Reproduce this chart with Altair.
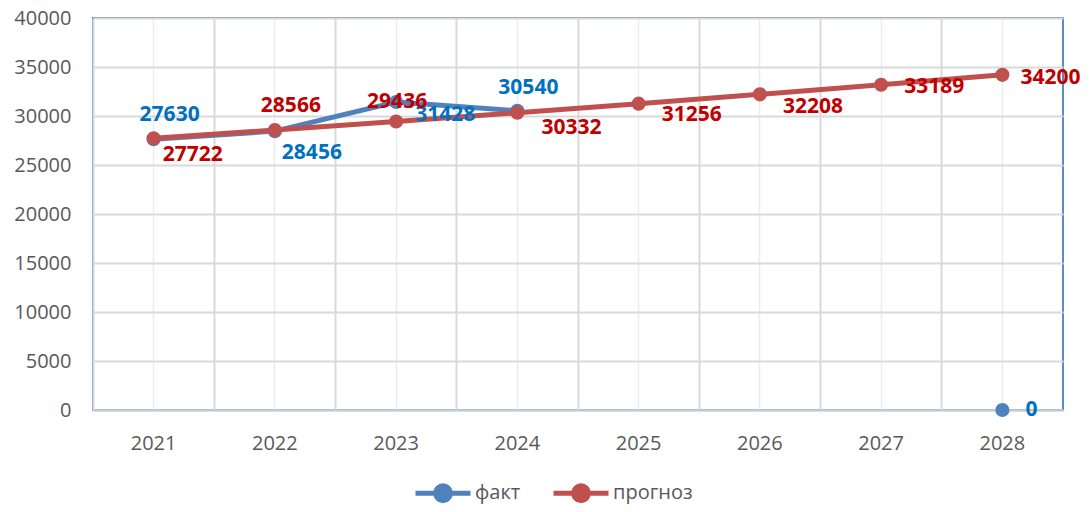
import altair as alt
import pandas as pd

years = ["2021", "2022", "2023", "2024", "2025", "2026", "2027", "2028"]
fact = [27630, 28456, 31428, 30540, None, None, None, 0]
forecast = [27722, 28566, 29436, 30332, 31256, 32208, 33189, 34200]
series_names = ["факт", "прогноз"]
line_colors = ["#4f81bd", "#c0504d"]
label_colors = ["#0070c0", "#c00000"]
y_ticks = [0, 5000, 10000, 15000, 20000, 25000, 30000, 35000, 40000]

rows = []
for name, vals in zip(series_names, [fact, forecast]):
    for yr, v in zip(years, vals):
        rows.append({"year": yr, "series": name, "value": v})
df = pd.DataFrame(rows)

FONT = "Open Sans"
xscale = alt.Scale(type="band", domain=years, paddingInner=0, paddingOuter=0)
yscale = alt.Scale(domain=[0, 40000], nice=False)
y_enc = alt.Y("value:Q", scale=yscale, title=None,
              axis=alt.Axis(values=y_ticks, format="d", ticks=False, domain=False,
                            labelPadding=22, gridColor="#d9d9d9", gridWidth=2,
                            labelFontSize=20, labelFont=FONT, labelColor="#595959"))
color_scale = alt.Scale(domain=series_names, range=line_colors)

base = alt.Chart(df)

legend_path = "M-1,0L1,0M-0.27,0A0.27,0.27,0,1,0,0.27,0A0.27,0.27,0,1,0,-0.27,0"
legend = alt.Legend(orient="none", legendX=320, legendY=445,
                    direction="horizontal", symbolType=legend_path,
                    symbolSize=3025, symbolStrokeWidth=5,
                    labelFont=FONT, labelFontSize=20, labelColor="#595959",
                    labelOffset=2, columnPadding=22, symbolOpacity=1)

lines = base.mark_line(strokeWidth=5, invalid="break-paths-show-domains").encode(
    x=alt.X("year:O", scale=xscale, title=None,
            axis=alt.Axis(orient="bottom", bandPosition=0, grid=True, gridColor="#d9d9d9",
                          gridWidth=2, ticks=False, domainColor="#c3cbd9", domainWidth=2,
                          labelAngle=0, labelPadding=23, labelFontSize=20, labelFont=FONT,
                          labelColor="#595959")),
    y=y_enc,
    color=alt.Color("series:N", scale=color_scale, title=None, legend=legend),
)

points = base.mark_circle(size=200, opacity=1).encode(
    x=alt.X("year:O", scale=xscale, title=None,
            axis=alt.Axis(orient="top", grid=True, gridColor="#ececec", gridWidth=1.5,
                          labels=False, ticks=False, domain=False)),
    y=y_enc,
    color=alt.Color("series:N", scale=color_scale, title=None, legend=legend),
)

label_specs = [
    ("факт", "2021", "center", 16, -24),
    ("факт", "2022", "center", 37, 22),
    ("факт", "2023", "left", 19, 13),
    ("факт", "2024", "center", 11, -23),
    ("факт", "2028", "left", 23, 0),
    ("прогноз", "2021", "left", 9, 17),
    ("прогноз", "2022", "center", 16, -24),
    ("прогноз", "2023", "center", 1, -20),
    ("прогноз", "2024", "left", 24, 15),
    ("прогноз", "2025", "left", 23, 11),
    ("прогноз", "2026", "left", 23, 13),
    ("прогноз", "2027", "left", 23, 2),
    ("прогноз", "2028", "left", 18, 3),
]

label_layers = []
for s, yr, al, dx, dy in label_specs:
    col = label_colors[series_names.index(s)]
    t = base.mark_text(align=al, baseline="middle", dx=dx, dy=dy, font=FONT,
                       fontSize=21, fontWeight="bold", color=col).encode(
        x=alt.X("year:O", scale=xscale, axis=None),
        y=y_enc,
        text=alt.Text("value:Q", format="d"),
    ).transform_filter(
        (alt.datum.series == s) & (alt.datum.year == yr)
    )
    label_layers.append(t)

chart = alt.layer(lines, points, *label_layers).resolve_axis(x="independent").properties(
    width=970, height=392,
    autosize=alt.AutoSizeParams(type="none"),
    padding={"left": 85, "top": 10, "right": 19, "bottom": 94},
).configure_view(stroke="#5b8bc9", strokeWidth=2)

chart.save("out.html", embed_options={"renderer": "svg", "actions": False})
